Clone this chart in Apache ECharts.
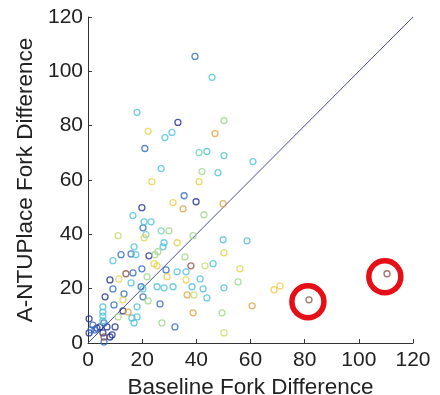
<!DOCTYPE html>
<html>
<head>
<meta charset="utf-8">
<script src="https://cdn.jsdelivr.net/npm/echarts@6/dist/echarts.min.js"></script>
<style>html,body{margin:0;padding:0;background:#fff}#c{width:440px;height:395px}</style>
</head>
<body>
<div id="c"></div>
<script>
var xTicks = [0, 20, 40, 60, 80, 100, 120];
var yTicks = [0, 20, 40, 60, 80, 100, 120];
var xTitle = 'Baseline Fork Difference';
var yTitle = 'A-NTUPlace Fork Difference';

var darkBlue = [[39.9,52.0],[19.9,49.8],[22.5,32.1],[8.1,23.2],[6.3,17.0],[12.9,11.8],[10.0,5.9],[8.9,3.0],[0.4,8.9],[3.3,5.5],[4.4,5.9],[5.5,3.7],[0.4,3.7],[7.0,5.9],[8.1,2.2],[33.2,81.2]];
var blue = [[39.5,105.5],[21.0,71.6],[35.5,54.2],[20.3,42.4],[15.9,32.8],[12.2,32.5],[19.9,27.3],[28.8,26.9],[16.6,25.8],[19.6,20.7],[9.2,19.9],[13.3,18.1],[20.3,17.0],[9.6,14.0],[26.6,14.4],[32.1,5.9],[1.8,6.6],[1.1,4.8],[5.9,7.4],[5.9,0.4],[2.6,4.8]];
var cyan = [[45.8,97.8],[18.1,84.9],[28.4,75.6],[31.0,77.5],[43.9,70.5],[50.2,69.0],[60.9,66.8],[27.0,64.2],[48.0,62.7],[16.6,46.9],[20.7,44.6],[23.3,44.6],[49.9,38.0],[58.7,37.6],[17.0,35.4],[28.1,36.9],[27.7,35.4],[17.7,32.5],[9.2,30.3],[32.9,26.2],[36.2,26.2],[46.2,29.2],[15.9,22.1],[25.5,20.7],[31.4,20.7],[41.4,23.6],[38.4,20.7],[42.5,19.9],[50.2,20.3],[20.3,19.9],[28.1,20.3],[43.9,16.6],[18.1,13.3],[16.2,9.2],[18.1,9.6],[17.0,7.4],[5.5,13.3],[5.5,11.4],[5.5,9.9],[5.5,8.1]];
var greenCyan = [[41.0,70.1],[21.4,39.9],[27.0,41.3]];
var green = [[50.2,81.9],[42.1,63.1],[42.8,47.2],[29.9,41.3],[38.8,39.5],[25.8,33.6],[24.7,32.5],[35.8,31.7],[55.4,22.5],[21.8,24.4],[22.2,15.5],[11.1,9.6],[27.3,7.4],[49.5,11.1]];
var yellowGreen = [[11.1,39.5],[43.2,28.4],[39.1,17.7],[50.2,3.7]];
var yellow = [[22.2,77.9],[23.6,59.4],[41.0,59.4],[31.4,51.7],[20.7,38.7],[32.9,36.9],[24.4,29.2],[25.5,28.4],[50.2,33.2],[56.1,27.3],[29.2,24.4],[11.4,23.6],[36.2,23.2],[12.9,15.9],[68.7,19.6],[70.9,21.0]];
var orange = [[46.9,77.1],[35.1,49.4],[49.9,51.3],[36.6,17.7],[14.8,11.4],[38.8,11.1],[60.6,13.7]];
var brown = [[38.0,28.4],[14.0,25.5],[81.6,15.9],[110.4,25.5],[5.9,2.2]];
var diagonal = [[0,0],[120,120]];
var highlighted = [[81.2,15.2],[109.6,24.4]];

var groups = [
  ['darkBlue', darkBlue, '#1f2d8f'],
  ['blue', blue, '#2f6cc4'],
  ['cyan', cyan, '#4dc2d8'],
  ['greenCyan', greenCyan, '#6fd2b6'],
  ['green', green, '#9fd68a'],
  ['yellowGreen', yellowGreen, '#c9dc66'],
  ['yellow', yellow, '#e9cf48'],
  ['orange', orange, '#e0a23e'],
  ['brown', brown, '#8c5346']
];

var font = 'Liberation Sans, Arial, sans-serif';
var series = [{
  type: 'line', data: diagonal, symbol: 'none', silent: true,
  lineStyle: {color: '#4a4aa0', width: 1}, z: 1
}];
groups.forEach(function (g) {
  series.push({
    name: g[0], type: 'scatter', data: g[1], symbol: 'circle', symbolSize: 6,
    itemStyle: {color: 'rgba(255,255,255,0)', borderColor: g[2], borderWidth: 1.3}, z: 2
  });
});
series.push({
  name: 'highlight', type: 'scatter', data: highlighted, symbol: 'circle', symbolSize: 32,
  itemStyle: {color: 'rgba(255,255,255,0)', borderColor: '#e60f17', borderWidth: 5.5, opacity: 1}, z: 3
});

var chart = echarts.init(document.getElementById('c'), null, {renderer: 'canvas'});
chart.setOption({
  animation: false,
  backgroundColor: '#fff',
  grid: {left: 88, right: 27, top: 17, bottom: 52, containLabel: false, outerBoundsMode: 'none'},
  xAxis: {
    type: 'value', min: xTicks[0], max: xTicks[xTicks.length - 1], interval: 20,
    name: xTitle, nameLocation: 'middle', nameGap: 26,
    nameTextStyle: {fontFamily: font, fontSize: 22.5, color: '#222'},
    axisLine: {show: true, lineStyle: {color: '#333', width: 1}},
    axisTick: {show: true, inside: true, length: 4, lineStyle: {color: '#333'}},
    axisLabel: {fontFamily: font, fontSize: 21, color: '#222', margin: 7},
    splitLine: {show: false}
  },
  yAxis: {
    type: 'value', min: yTicks[0], max: yTicks[yTicks.length - 1], interval: 20,
    name: yTitle, nameLocation: 'middle', nameGap: 40,
    nameTextStyle: {fontFamily: font, fontSize: 22.5, color: '#222'},
    axisLine: {show: true, lineStyle: {color: '#333', width: 1}},
    axisTick: {show: true, inside: true, length: 4, lineStyle: {color: '#333'}},
    axisLabel: {fontFamily: font, fontSize: 21, color: '#222', margin: 5},
    splitLine: {show: false}
  },
  series: series
});
</script>
</body>
</html>
